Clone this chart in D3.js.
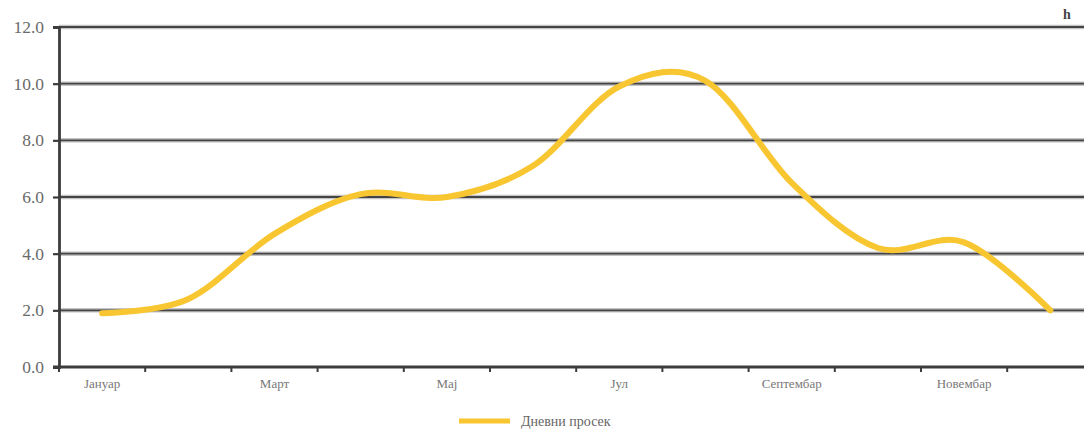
<!DOCTYPE html>
<html>
<head>
<meta charset="utf-8">
<script src="https://cdn.jsdelivr.net/npm/d3@7"></script>
<style>
  html, body { margin: 0; padding: 0; background: #fff; overflow: hidden; }
  svg { display: block; }
</style>
</head>
<body>
<svg id="chart" width="1084" height="431"></svg>
<script>
// Monthly categories (every other one is labelled on the axis)
const months = ["Јануар", "Фебруар", "Март", "Април", "Мај", "Јун",
                "Јул", "Август", "Септембар", "Октобар", "Новембар", "Децембар"];
// Daily average, hours
const dailyAvg = [1.9, 2.4, 4.7, 6.1, 6.0, 7.1, 9.9, 10.1, 6.5, 4.2, 4.4, 2.0];
const yTicks = [0, 2, 4, 6, 8, 10, 12];
const seriesName = "Дневни просек";
const unitLabel = "h";

const svg = d3.select("#chart");
const plotLeft = 59, plotTop = 27, plotBottom = 367;
const bandW = 86.2;
const plotRight = plotLeft + bandW * months.length;

const x = d3.scaleBand().domain(months).range([plotLeft, plotRight]).padding(0);
const y = d3.scaleLinear().domain([0, 12]).range([plotBottom, plotTop]);

const serif = "'Liberation Serif', 'DejaVu Serif', serif";

// Horizontal gridlines with a soft halo
const grid = svg.append("g");
yTicks.filter(v => v > 0).forEach(v => {
  grid.append("line")
    .attr("x1", plotLeft).attr("x2", 1084)
    .attr("y1", y(v)).attr("y2", y(v))
    .attr("stroke", "#c4c4c4").attr("stroke-width", 4.5);
  grid.append("line")
    .attr("x1", plotLeft).attr("x2", 1084)
    .attr("y1", y(v)).attr("y2", y(v))
    .attr("stroke", "#444").attr("stroke-width", 1.9);
});

// Y axis
const yAxis = d3.axisLeft(y).tickValues(yTicks).tickSize(6).tickPadding(9)
  .tickFormat(d3.format(".1f"));
const gy = svg.append("g").attr("transform", `translate(${plotLeft},0)`).call(yAxis);
gy.select(".domain").attr("stroke", "#3c3c3c").attr("stroke-width", 2.8);
gy.selectAll(".tick line").attr("stroke", "#3c3c3c").attr("stroke-width", 2.2);
gy.selectAll(".tick text")
  .attr("font-family", serif).attr("font-size", 17.5).attr("fill", "#6a6a6a");

// X axis: ticks at band boundaries, labels on odd months
const xAxisG = svg.append("g");
xAxisG.append("line")
  .attr("x1", plotLeft - 6).attr("x2", 1084)
  .attr("y1", plotBottom).attr("y2", plotBottom)
  .attr("stroke", "#3c3c3c").attr("stroke-width", 2.8);
const bounds = months.map(m => x(m)).concat([plotRight]);
xAxisG.selectAll("line.tk").data(bounds).join("line")
  .attr("class", "tk")
  .attr("x1", d => d).attr("x2", d => d)
  .attr("y1", plotBottom).attr("y2", plotBottom + 5)
  .attr("stroke", "#3c3c3c").attr("stroke-width", 2);
xAxisG.selectAll("text").data(months.filter((m, i) => i % 2 === 0)).join("text")
  .attr("x", d => x(d) + x.bandwidth() / 2)
  .attr("y", plotBottom + 21)
  .attr("text-anchor", "middle")
  .attr("font-family", serif).attr("font-size", 13).attr("fill", "#777")
  .text(d => d);

// Smoothed series line
const line = d3.line()
  .x((d, i) => x(months[i]) + x.bandwidth() / 2)
  .y(d => y(d))
  .curve(d3.curveCardinal.tension(0));
svg.append("path")
  .datum(dailyAvg)
  .attr("d", line)
  .attr("fill", "none")
  .attr("stroke", "#f8c630")
  .attr("stroke-width", 6)
  .attr("stroke-linecap", "round")
  .attr("stroke-linejoin", "round");

// Unit label
svg.append("text")
  .attr("x", 1067).attr("y", 19)
  .attr("text-anchor", "middle")
  .attr("font-family", serif).attr("font-weight", "bold")
  .attr("font-size", 14).attr("fill", "#444")
  .text(unitLabel);

// Legend
const lg = svg.append("g").attr("transform", "translate(459,421)");
lg.append("line").attr("x1", 0).attr("x2", 51).attr("y1", 0).attr("y2", 0)
  .attr("stroke", "#f8c630").attr("stroke-width", 5);
lg.append("text").attr("x", 62).attr("y", 5)
  .attr("font-family", serif).attr("font-size", 14).attr("fill", "#666")
  .text(seriesName);
</script>
</body>
</html>
